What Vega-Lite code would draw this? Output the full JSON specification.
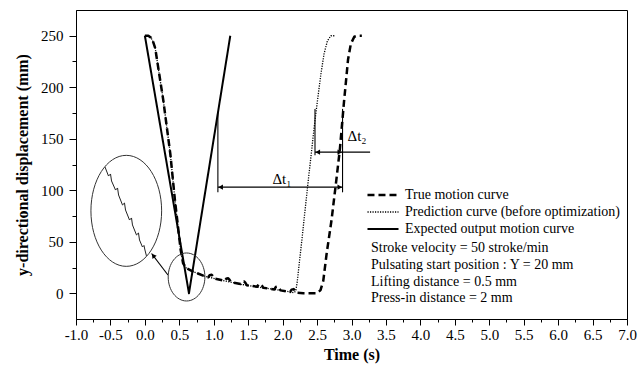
{
  "$schema": "https://vega.github.io/schema/vega-lite/v6.json",
  "width": 551,
  "height": 309,
  "autosize": {"type": "none"},
  "padding": {"left": 76, "top": 10, "right": 17, "bottom": 46},
  "config": {
    "font": "Liberation Serif",
    "view": {"stroke": "black", "strokeWidth": 1},
    "axis": {
      "grid": false,
      "domainColor": "black",
      "tickColor": "black",
      "labelColor": "black",
      "titleColor": "black",
      "labelFontSize": 15,
      "titleFontSize": 16,
      "titleFontWeight": "bold",
      "labelOverlap": false,
      "labelFlush": false
    }
  },
  "datasets": {
    "curves": [
      {"series": "E", "t": 0, "y": 250}, {"series": "E", "t": 0.64, "y": 0}, {"series": "E", "t": 1.24, "y": 250},
      {"series": "P", "t": 0, "y": 250}, {"series": "P", "t": 0.05, "y": 250}, {"series": "P", "t": 0.09, "y": 248}, {"series": "P", "t": 0.12, "y": 244}, {"series": "P", "t": 0.15, "y": 238}, {"series": "P", "t": 0.266, "y": 188}, {"series": "P", "t": 0.37, "y": 135}, {"series": "P", "t": 0.437, "y": 90}, {"series": "P", "t": 0.52, "y": 42}, {"series": "P", "t": 0.555, "y": 29}, {"series": "P", "t": 0.6, "y": 24.5}, {"series": "P", "t": 0.7, "y": 21}, {"series": "P", "t": 0.87, "y": 16.5}, {"series": "P", "t": 1.06, "y": 13.5}, {"series": "P", "t": 1.3, "y": 10}, {"series": "P", "t": 1.5, "y": 7.5}, {"series": "P", "t": 1.7, "y": 5.5}, {"series": "P", "t": 1.9, "y": 3.5}, {"series": "P", "t": 2.1, "y": 1.5}, {"series": "P", "t": 2.16, "y": 0.5}, {"series": "P", "t": 2.19, "y": 2}, {"series": "P", "t": 2.21, "y": 10}, {"series": "P", "t": 2.28, "y": 52}, {"series": "P", "t": 2.36, "y": 102}, {"series": "P", "t": 2.47, "y": 168}, {"series": "P", "t": 2.55, "y": 210}, {"series": "P", "t": 2.6, "y": 232}, {"series": "P", "t": 2.65, "y": 245}, {"series": "P", "t": 2.7, "y": 250}, {"series": "P", "t": 2.76, "y": 250},
      {"series": "T", "t": 0, "y": 250}, {"series": "T", "t": 0.05, "y": 250}, {"series": "T", "t": 0.09, "y": 248}, {"series": "T", "t": 0.12, "y": 244}, {"series": "T", "t": 0.15, "y": 238}, {"series": "T", "t": 0.266, "y": 188}, {"series": "T", "t": 0.37, "y": 135}, {"series": "T", "t": 0.437, "y": 90}, {"series": "T", "t": 0.52, "y": 42}, {"series": "T", "t": 0.555, "y": 29}, {"series": "T", "t": 0.6, "y": 24.5}, {"series": "T", "t": 0.7, "y": 21}, {"series": "T", "t": 0.87, "y": 16.5},
      {"series": "T", "t": 0.92, "y": 15.5}, {"series": "T", "t": 0.94, "y": 17.5}, {"series": "T", "t": 0.97, "y": 18}, {"series": "T", "t": 0.99, "y": 16.5}, {"series": "T", "t": 1.01, "y": 14.3},
      {"series": "T", "t": 1.16, "y": 12}, {"series": "T", "t": 1.18, "y": 14}, {"series": "T", "t": 1.21, "y": 14.5}, {"series": "T", "t": 1.23, "y": 13}, {"series": "T", "t": 1.25, "y": 10.8},
      {"series": "T", "t": 1.39, "y": 9}, {"series": "T", "t": 1.41, "y": 11}, {"series": "T", "t": 1.44, "y": 11.5}, {"series": "T", "t": 1.46, "y": 10}, {"series": "T", "t": 1.48, "y": 7.8},
      {"series": "T", "t": 1.63, "y": 6.3}, {"series": "T", "t": 1.65, "y": 8.5}, {"series": "T", "t": 1.68, "y": 9}, {"series": "T", "t": 1.7, "y": 7.5}, {"series": "T", "t": 1.72, "y": 5.3},
      {"series": "T", "t": 1.88, "y": 3.7}, {"series": "T", "t": 1.9, "y": 6}, {"series": "T", "t": 1.93, "y": 6.5}, {"series": "T", "t": 1.95, "y": 5}, {"series": "T", "t": 1.97, "y": 2.8},
      {"series": "T", "t": 2.11, "y": 1.3}, {"series": "T", "t": 2.13, "y": 3.5}, {"series": "T", "t": 2.16, "y": 4}, {"series": "T", "t": 2.18, "y": 2.5}, {"series": "T", "t": 2.2, "y": 0.5},
      {"series": "T", "t": 2.3, "y": 0}, {"series": "T", "t": 2.5, "y": 0}, {"series": "T", "t": 2.55, "y": 3}, {"series": "T", "t": 2.59, "y": 12}, {"series": "T", "t": 2.64, "y": 39}, {"series": "T", "t": 2.71, "y": 71}, {"series": "T", "t": 2.78, "y": 110}, {"series": "T", "t": 2.83, "y": 139}, {"series": "T", "t": 2.89, "y": 185}, {"series": "T", "t": 2.95, "y": 227}, {"series": "T", "t": 2.99, "y": 242}, {"series": "T", "t": 3.04, "y": 249}, {"series": "T", "t": 3.09, "y": 250}, {"series": "T", "t": 3.15, "y": 250}
    ],
    "zig": [
      {"t": -0.579, "y": 122.6}, {"t": -0.528, "y": 113.8}, {"t": -0.499, "y": 115.8}, {"t": -0.484, "y": 109.0},
      {"t": -0.426, "y": 100.2}, {"t": -0.397, "y": 102.2}, {"t": -0.382, "y": 95.4},
      {"t": -0.325, "y": 85.7}, {"t": -0.296, "y": 87.6}, {"t": -0.281, "y": 80.8},
      {"t": -0.223, "y": 71.1}, {"t": -0.194, "y": 73.1}, {"t": -0.18, "y": 66.3},
      {"t": -0.122, "y": 56.6}, {"t": -0.093, "y": 58.5}, {"t": -0.078, "y": 51.7},
      {"t": -0.035, "y": 44.9}, {"t": -0.013, "y": 46.4}, {"t": 0.001, "y": 42.0}, {"t": 0.023, "y": 36.2}
    ],
    "ellipses": [
      {"name": "big", "t": -0.27, "y": 80},
      {"name": "small", "t": 0.605, "y": 15.8}
    ],
    "rules": [
      {"t": 1.06, "y": 98, "t2": 1.06, "y2": 176},
      {"t": 2.87, "y": 98, "t2": 2.87, "y2": 179},
      {"t": 2.47, "y": 134, "t2": 2.47, "y2": 179},
      {"t": 1.06, "y": 103, "t2": 2.87, "y2": 103},
      {"t": 2.47, "y": 137, "t2": 3.27, "y2": 137},
      {"t": 0.335, "y": 17.7, "t2": 0.097, "y2": 38.6}
    ],
    "heads": [
      {"t": 1.1, "y": 103, "dir": "left"},
      {"t": 2.83, "y": 103, "dir": "right"},
      {"t": 2.51, "y": 137, "dir": "left"},
      {"t": 2.83, "y": 137, "dir": "right"},
      {"t": 0.121, "y": 36.6, "dir": "upleft"}
    ],
    "dlabels": [
      {"t": 1.99, "y": 111, "label": "Δt₁"},
      {"t": 3.08, "y": 153, "label": "Δt₂"}
    ],
    "notes": [
      {"t": 3.283, "y": 43.9, "label": "Stroke velocity = 50 stroke/min"},
      {"t": 3.283, "y": 27.4, "label": "Pulsating start position : Y = 20 mm"},
      {"t": 3.283, "y": 10.9, "label": "Lifting distance = 0.5 mm"},
      {"t": 3.283, "y": -4.6, "label": "Press-in distance = 2 mm"}
    ]
  },
  "encoding": {
    "x": {
      "field": "t", "type": "quantitative",
      "scale": {"domain": [-1, 7], "nice": false, "zero": false},
      "axis": {
        "title": "Time (s)",
        "values": [-1, -0.75, -0.5, -0.25, 0, 0.25, 0.5, 0.75, 1, 1.25, 1.5, 1.75, 2, 2.25, 2.5, 2.75, 3, 3.25, 3.5, 3.75, 4, 4.25, 4.5, 4.75, 5, 5.25, 5.5, 5.75, 6, 6.25, 6.5, 6.75, 7],
        "labelExpr": "abs(datum.value*2-round(datum.value*2)) > 0.01 ? '' : replace(format(datum.value, '.1f'), '−', '-')",
        "tickSize": {"condition": {"test": "abs(datum.value*2-round(datum.value*2)) > 0.01", "value": 3}, "value": 6},
        "labelPadding": 2,
        "titlePadding": 4
      }
    },
    "y": {
      "field": "y", "type": "quantitative",
      "scale": {"domain": [-25, 275], "nice": false, "zero": false},
      "axis": {
        "title": "y-directional displacement (mm)",
        "values": [0, 25, 50, 75, 100, 125, 150, 175, 200, 225, 250],
        "labelExpr": "datum.value % 50 == 0 ? datum.label : ''",
        "tickSize": {"condition": {"test": "datum.value % 50 != 0", "value": 4}, "value": 7},
        "labelPadding": 6,
        "titlePadding": 10
      }
    }
  },
  "layer": [
    {
      "data": {"name": "curves"},
      "mark": {"type": "line", "color": "black", "strokeCap": "butt", "strokeJoin": "round"},
      "encoding": {
        "strokeDash": {
          "field": "series", "type": "nominal",
          "scale": {"domain": ["T", "P", "E"], "range": [[7, 4], [1.2, 1.3], [1, 0]]},
          "legend": {
            "title": null,
            "orient": "none",
            "legendX": 300,
            "legendY": 178,
            "padding": 0,
            "symbolType": "M-3,0H3",
            "symbolSize": 107,
            "symbolStrokeColor": "black",
            "symbolStrokeWidth": 2,
            "labelFontSize": 14,
            "labelColor": "black",
            "labelLimit": 400,
            "labelOffset": 15,
            "rowPadding": 3,
            "labelExpr": "datum.value == 'T' ? 'True motion curve' : datum.value == 'P' ? 'Prediction curve (before optimization)' : 'Expected output motion curve'",
            "encode": {"symbols": {"update": {"strokeWidth": {"signal": "datum.value == 'T' ? 2.5 : datum.value == 'E' ? 2 : 1.3"}}}}
          }
        },
        "strokeWidth": {
          "condition": [
            {"test": "datum.series == 'T'", "value": 2.5},
            {"test": "datum.series == 'P'", "value": 1.3}
          ],
          "value": 2
        }
      }
    },
    {
      "data": {"name": "zig"},
      "mark": {"type": "line", "color": "#222", "strokeWidth": 1},
      "encoding": {}
    },
    {
      "data": {"name": "ellipses"},
      "transform": [{"filter": "datum.name == 'big'"}],
      "mark": {"type": "point", "shape": "M0,-1C0.3518,-1,0.637,-0.5523,0.637,0C0.637,0.5523,0.3518,1,0,1C-0.3518,1,-0.637,0.5523,-0.637,0C-0.637,-0.5523,-0.3518,-1,0,-1Z", "size": 12321, "filled": false, "stroke": "#333", "strokeWidth": 1, "opacity": 1}
    },
    {
      "data": {"name": "ellipses"},
      "transform": [{"filter": "datum.name == 'small'"}],
      "mark": {"type": "point", "shape": "M0,-1C0.4223,-1,0.7646,-0.5523,0.7646,0C0.7646,0.5523,0.4223,1,0,1C-0.4223,1,-0.7646,0.5523,-0.7646,0C-0.7646,-0.5523,-0.4223,-1,0,-1Z", "size": 2304, "filled": false, "stroke": "#333", "strokeWidth": 1, "opacity": 1}
    },
    {
      "data": {"name": "rules"},
      "mark": {"type": "rule", "color": "black", "strokeWidth": 1.1},
      "encoding": {
        "x2": {"field": "t2"},
        "y2": {"field": "y2"}
      }
    },
    {
      "data": {"name": "heads"},
      "mark": {"type": "point", "filled": true, "color": "black", "size": 28, "opacity": 1},
      "encoding": {
        "shape": {"field": "dir", "type": "nominal", "scale": {"domain": ["left", "right", "upleft"], "range": ["triangle-left", "triangle-right", "triangle-up"]}, "legend": null},
        "angle": {"condition": {"test": "datum.dir == 'upleft'", "value": 323}, "value": 0}
      }
    },
    {
      "data": {"name": "dlabels"},
      "mark": {"type": "text", "fontSize": 15, "color": "black", "align": "center", "baseline": "middle"},
      "encoding": {"text": {"field": "label"}}
    },
    {
      "data": {"name": "notes"},
      "mark": {"type": "text", "fontSize": 14, "color": "black", "align": "left", "baseline": "middle"},
      "encoding": {"text": {"field": "label"}}
    }
  ]
}
